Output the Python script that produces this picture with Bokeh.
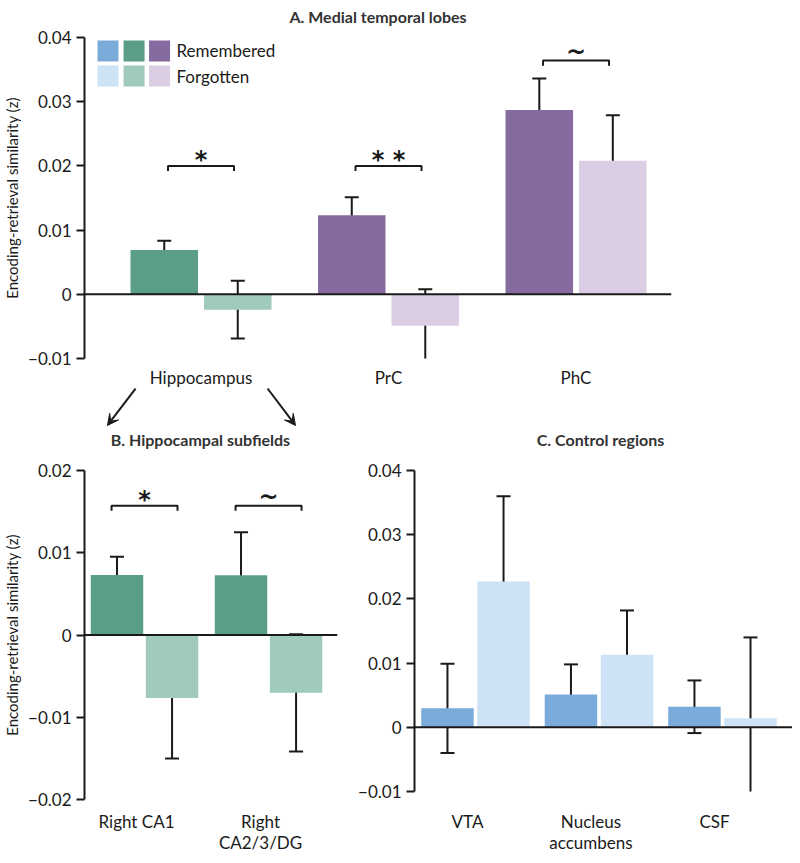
from bokeh.plotting import figure
from bokeh.models import (Range1d, FixedTicker, CustomJSTickFormatter, Span, Whisker,
                          ColumnDataSource, Arrow, VeeHead, TeeHead)
from bokeh.layouts import column, row
from bokeh.core.properties import value
from bokeh.embed import file_html
from bokeh.resources import INLINE

# ---------------- data ----------------
a_regions = ["Hippocampus", "PrC", "PhC"]
a_rem = [0.0069, 0.0123, 0.0287]
a_rem_err = [0.00145, 0.0028, 0.0049]
a_forg = [-0.0024, -0.0049, 0.0208]
a_forg_err = [0.0045, 0.0057, 0.0071]
a_sig = ["*", "* *", "~"]
a_sig_y = [0.020, 0.020, 0.0364]

b_regions = ["Right CA1", "Right\nCA2/3/DG"]
b_rem = [0.0073, 0.00725]
b_rem_err = [0.0022, 0.00525]
b_forg = [-0.00765, -0.00703]
b_forg_err = [0.00735, 0.00713]
b_sig = ["*", "~"]
b_sig_y = [0.0157, 0.0157]

c_regions = ["VTA", "Nucleus\naccumbens", "CSF"]
c_rem = [0.00295, 0.0051, 0.0032]
c_rem_err = [0.00695, 0.0047, 0.0041]
c_forg = [0.0227, 0.0113, 0.0014]
c_forg_err = [0.0133, 0.0069, 0.0126]

ticks_a = [-0.01, 0, 0.01, 0.02, 0.03, 0.04]
ticks_b = [-0.02, -0.01, 0, 0.01, 0.02]
ticks_c = [-0.01, 0, 0.01, 0.02, 0.03, 0.04]

titles = ["A. Medial temporal lobes", "B. Hippocampal subfields", "C. Control regions"]
legend_labels = ["Remembered", "Forgotten"]
y_label = "Encoding-retrieval similarity (z)"

BLUE, BLUE_L = "#7BABDB", "#CDE2F4"
GREEN, GREEN_L = "#5A9E85", "#A0CBBB"
PURPLE, PURPLE_L = "#866BA1", "#DBCDE3"
INK = "#1a1a1a"
TITLE_INK = "#333333"
FONT = "Lato"

fmt = CustomJSTickFormatter(code="""
  if (Math.abs(tick) < 1e-12) return "0";
  return tick < 0 ? "\\u2212" + Math.abs(tick).toString() : tick.toString();
""")


def base_fig(fw, fh, xr, yr, left, right, top, bottom):
    p = figure(frame_width=fw, frame_height=fh, x_range=xr, y_range=yr,
               output_backend="svg", toolbar_location=None,
               min_border_left=left, min_border_right=right,
               min_border_top=top, min_border_bottom=bottom)
    p.title = None
    p.outline_line_color = None
    p.xgrid.visible = False
    p.ygrid.visible = False
    p.background_fill_color = "white"
    p.border_fill_color = "white"
    p.xaxis.visible = False
    return p


def make_panel(fw, fh, xr, yr, borders, ticks):
    p = base_fig(fw, fh, xr, Range1d(*yr), *borders)
    ya = p.yaxis[0]
    ya.ticker = FixedTicker(ticks=ticks)
    ya.formatter = fmt
    ya.axis_line_width = 2
    ya.axis_line_color = INK
    ya.major_tick_line_width = 2
    ya.major_tick_line_color = INK
    ya.major_tick_out = 8
    ya.major_tick_in = 0
    ya.minor_tick_line_color = None
    ya.major_label_text_font = FONT
    ya.major_label_text_font_size = "17px"
    ya.major_label_text_color = INK
    ya.major_label_standoff = 5
    p.add_layout(Span(location=0, dimension="width", line_color=INK, line_width=2))
    return p


def set_ylabel(p):
    ya = p.yaxis[0]
    ya.axis_label = y_label
    ya.axis_label_text_font = FONT
    ya.axis_label_text_font_size = "15px"
    ya.axis_label_text_font_style = "normal"
    ya.axis_label_text_color = INK
    ya.axis_label_standoff = 4


def strip(fw, fh, xr, left, right):
    s = base_fig(fw, fh, xr, Range1d(0, 1), left, right, 0, 0)
    s.yaxis.visible = False
    return s


def add_bars(p, cats, rem, rem_err, forg, forg_err, col_rem, col_forg, off, bw, cap):
    idx = list(range(len(cats)))
    xr_ = [i - off for i in idx]
    xf_ = [i + off for i in idx]
    p.vbar(x=xr_, top=rem, bottom=0, width=bw, fill_color=col_rem, line_color=None)
    p.vbar(x=xf_, top=forg, bottom=0, width=bw, fill_color=col_forg, line_color=None)
    for xs, vals, errs in ((xr_, rem, rem_err), (xf_, forg, forg_err)):
        src = ColumnDataSource(dict(x=xs,
                                    lo=[v - e for v, e in zip(vals, errs)],
                                    hi=[v + e for v, e in zip(vals, errs)]))
        p.add_layout(Whisker(source=src, base="x", upper="hi", lower="lo", line_width=2,
                             line_color=INK,
                             upper_head=TeeHead(size=cap, line_width=2, line_color=INK),
                             lower_head=TeeHead(size=cap, line_width=2, line_color=INK)))


def add_sig(p, groups, labels, ys, half, drop):
    xs, yy = [], []
    for g, y in zip(groups, ys):
        xs.append([g - half, g - half, g + half, g + half])
        yy.append([y - drop, y, y, y - drop])
    p.multi_line(xs=xs, ys=yy, line_color=INK, line_width=2)
    offs = [-9 if lab == "~" else -6 for lab in labels]
    src = ColumnDataSource(dict(x=groups, y=ys, t=labels, o=offs))
    p.text(x="x", y="y", text="t", y_offset="o", source=src, text_align="center",
           text_baseline="alphabetic", text_font=value("DejaVu Sans"), text_font_style="bold",
           text_font_size="24px", text_color=INK)


def add_cat_labels(s, cats, line_ys):
    # one single-line text per line of each category label
    xs, ys, ts = [], [], []
    for i, c in enumerate(cats):
        for j, part in enumerate(c.split("\n")):
            xs.append(i)
            ys.append(line_ys[j])
            ts.append(part)
    s.text(x=xs, y=ys, text=ts, text_align="center", text_baseline="middle",
           text_font=value(FONT), text_font_size="17px", text_color=INK)


def add_title(s, x, y, txt):
    s.text(x=[x], y=[y], text=[txt], text_align="center", text_baseline="middle",
           text_font=value(FONT), text_font_style="bold", text_font_size="16px",
           text_color=TITLE_INK)


# ---------------- title strip for A ----------------
xr_a = Range1d(-0.6213, 2.509)
st = strip(587, 27, xr_a, 76, 121)
add_title(st, (xr_a.start + xr_a.end) / 2, 0.41, titles[0])

# ---------------- Panel A ----------------
pa = make_panel(587, 321, xr_a, (-0.01, 0.04), (76, 121, 10, 10), ticks_a)
set_ylabel(pa)
add_bars(pa, a_regions, a_rem, a_rem_err, a_forg, a_forg_err,
         [GREEN, PURPLE, PURPLE], [GREEN_L, PURPLE_L, PURPLE_L], 0.196, 0.36, 14)
add_sig(pa, list(range(len(a_regions))), a_sig, a_sig_y, 0.176, 0.0008)

# legend (3 colour squares per row)
leg_x = [-0.496, -0.357, -0.221]
leg_y = [0.0379, 0.0340]
pa.rect(x=leg_x, y=[leg_y[0]] * 3, width=21, height=21, width_units="screen", height_units="screen",
        fill_color=[BLUE, GREEN, PURPLE], line_color=None)
pa.rect(x=leg_x, y=[leg_y[1]] * 3, width=21, height=21, width_units="screen", height_units="screen",
        fill_color=[BLUE_L, GREEN_L, PURPLE_L], line_color=None)
pa.text(x=[-0.131, -0.131], y=leg_y, text=legend_labels, text_baseline="middle", text_align="left",
        text_font=value(FONT), text_font_size="17px", text_color=INK)

# ---------------- middle strip: A categories, arrows, B/C titles ----------------
sa = strip(708, 91, Range1d(-0.6213, 3.1547), 76, 0)
add_cat_labels(sa, a_regions, [0.90])
for xs_, ys_, xe_, ye_ in ((-0.349, 0.78, -0.499, 0.374), (0.355, 0.78, 0.504, 0.374)):
    sa.add_layout(Arrow(x_start=xs_, y_start=ys_, x_end=xe_, y_end=ye_, line_width=2, line_color=INK,
                        end=VeeHead(size=11, fill_color=INK, line_color=INK, line_width=1)))
add_title(sa, -0.003, 0.22, titles[1])
add_title(sa, 2.131, 0.22, titles[2])

# ---------------- Panel B ----------------
xr_b = Range1d(-0.484, 1.556)
pb = make_panel(253, 329, xr_b, (-0.02, 0.02), (76, 18, 10, 12), ticks_b)
set_ylabel(pb)
add_bars(pb, b_regions, b_rem, b_rem_err, b_forg, b_forg_err, GREEN, GREEN_L, 0.222, 0.423, 14)
add_sig(pb, [0, 1], b_sig, b_sig_y, 0.266, 0.0006)
sb = strip(253, 45, xr_b, 76, 18)
add_cat_labels(sb, b_regions, [0.76, 0.29])

# ---------------- Panel C ----------------
xr_c = Range1d(-0.494, 2.567)
pc = make_panel(378, 321, xr_c, (-0.01, 0.04), (59, 0, 11, 19), ticks_c)
add_bars(pc, c_regions, c_rem, c_rem_err, c_forg, c_forg_err, BLUE, BLUE_L, 0.227, 0.425, 14)
sc = strip(378, 45, xr_c, 59, 0)
add_cat_labels(sc, c_regions, [0.76, 0.29])

layout = column(st, pa, sa, row(pb, pc), row(sb, sc))
open("out.html", "w").write(file_html(layout, INLINE))
